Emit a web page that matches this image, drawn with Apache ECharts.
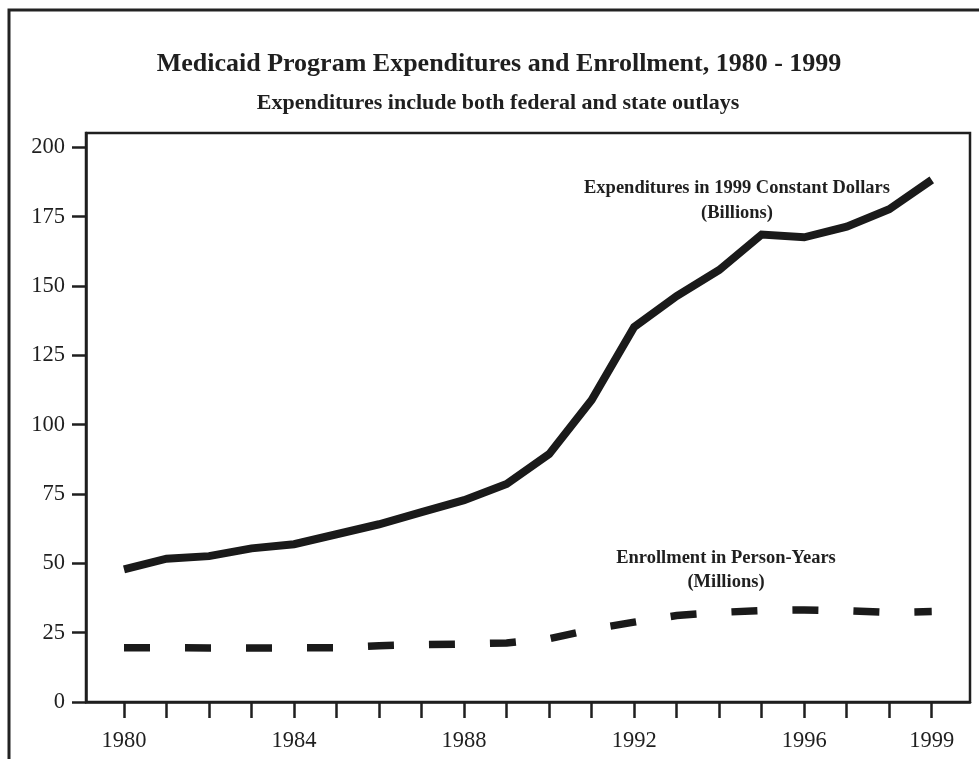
<!DOCTYPE html>
<html>
<head>
<meta charset="utf-8">
<script src="https://cdn.jsdelivr.net/npm/echarts@6/dist/echarts.min.js"></script>
<style>
html,body{margin:0;padding:0;background:#fff;}
#chart{width:979px;height:759px;}
</style>
</head>
<body>
<div id="chart"></div>
<script>
// ---- data ----
const years = [1980,1981,1982,1983,1984,1985,1986,1987,1988,1989,1990,1991,1992,1993,1994,1995,1996,1997,1998,1999];
const expenditures = [47.8,51.7,52.6,55.4,56.9,60.5,64.1,68.5,72.8,78.6,89.4,108.9,135.2,146.4,155.8,168.6,167.6,171.4,177.7,188.3];
const enrollment = [19.6,19.6,19.5,19.5,19.5,19.6,20.3,20.7,20.9,21.3,22.8,26.2,28.8,31.2,32.3,33.0,33.2,32.9,32.3,32.6];
const yTicks = [0,25,50,75,100,125,150,175,200];
const xLabels = [1980,1984,1988,1992,1996,1999];
const titleText = 'Medicaid Program Expenditures and Enrollment, 1980 - 1999';
const subtitleText = 'Expenditures include both federal and state outlays';
const expLabel = ['Expenditures in 1999 Constant Dollars', '(Billions)'];
const enrLabel = ['Enrollment in Person-Years', '(Millions)'];

const serif = '"Liberation Serif", "Times New Roman", serif';
const ink = '#1f1f1f';

const chart = echarts.init(document.getElementById('chart'), null, {renderer: 'canvas'});
chart.setOption({
  backgroundColor: '#fff',
  animation: false,
  title: [
    {text: titleText, left: 494, top: 46, textAlign: 'center',
     textStyle: {fontFamily: serif, fontWeight: 'bold', fontSize: 26, color: ink}},
    {text: subtitleText, left: 493, top: 87, textAlign: 'center',
     textStyle: {fontFamily: serif, fontWeight: 'bold', fontSize: 22, color: ink}}
  ],
  grid: {left: 86, top: 133, right: 9, bottom: 57, show: true, borderColor: ink, borderWidth: 2.5, backgroundColor: 'transparent'},
  xAxis: {
    type: 'value', min: 1979.106, max: 1999.9,
    axisLine: {show: true, lineStyle: {color: ink, width: 2.5}},
    axisTick: {show: true, length: 16, lineStyle: {color: ink, width: 2.5}, customValues: years},
    axisLabel: {customValues: xLabels, margin: 28, fontFamily: serif, fontSize: 22.5, color: ink,
                formatter: v => String(v)},
    splitLine: {show: false}
  },
  yAxis: {
    type: 'value', min: 0, max: 205.2,
    axisLine: {show: true, lineStyle: {color: ink, width: 2.5}},
    axisTick: {show: true, length: 14, lineStyle: {color: ink, width: 2.5}, customValues: yTicks},
    axisLabel: {customValues: yTicks, margin: 21, fontFamily: serif, fontSize: 22.5, color: ink,
                formatter: v => String(v)},
    splitLine: {show: false}
  },
  series: [
    {name: 'Expenditures', type: 'line', showSymbol: false, symbol: 'none',
     data: years.map((y, i) => [y, expenditures[i]]),
     lineStyle: {color: '#1a1a1a', width: 8, cap: 'butt', join: 'miter'}},
    {name: 'Enrollment', type: 'line', showSymbol: false, symbol: 'none',
     data: years.map((y, i) => [y, enrollment[i]]),
     lineStyle: {color: '#1a1a1a', width: 7.5, type: [26, 35], cap: 'butt', join: 'miter'}}
  ],
  graphic: [
    {type: 'rect', shape: {x: 9, y: 10, width: 1100, height: 1000}, z: 0,
     style: {fill: 'none', stroke: '#222', lineWidth: 3}},
    {type: 'text', x: 737, y: 188, style: {text: expLabel[0], fontFamily: serif, fontWeight: 'bold', fontSize: 18.5, fill: ink, align: 'center', verticalAlign: 'middle'}},
    {type: 'text', x: 737, y: 213, style: {text: expLabel[1], fontFamily: serif, fontWeight: 'bold', fontSize: 18.5, fill: ink, align: 'center', verticalAlign: 'middle'}},
    {type: 'text', x: 726, y: 558, style: {text: enrLabel[0], fontFamily: serif, fontWeight: 'bold', fontSize: 18.5, fill: ink, align: 'center', verticalAlign: 'middle'}},
    {type: 'text', x: 726, y: 582, style: {text: enrLabel[1], fontFamily: serif, fontWeight: 'bold', fontSize: 18.5, fill: ink, align: 'center', verticalAlign: 'middle'}}
  ]
});
</script>
</body>
</html>
